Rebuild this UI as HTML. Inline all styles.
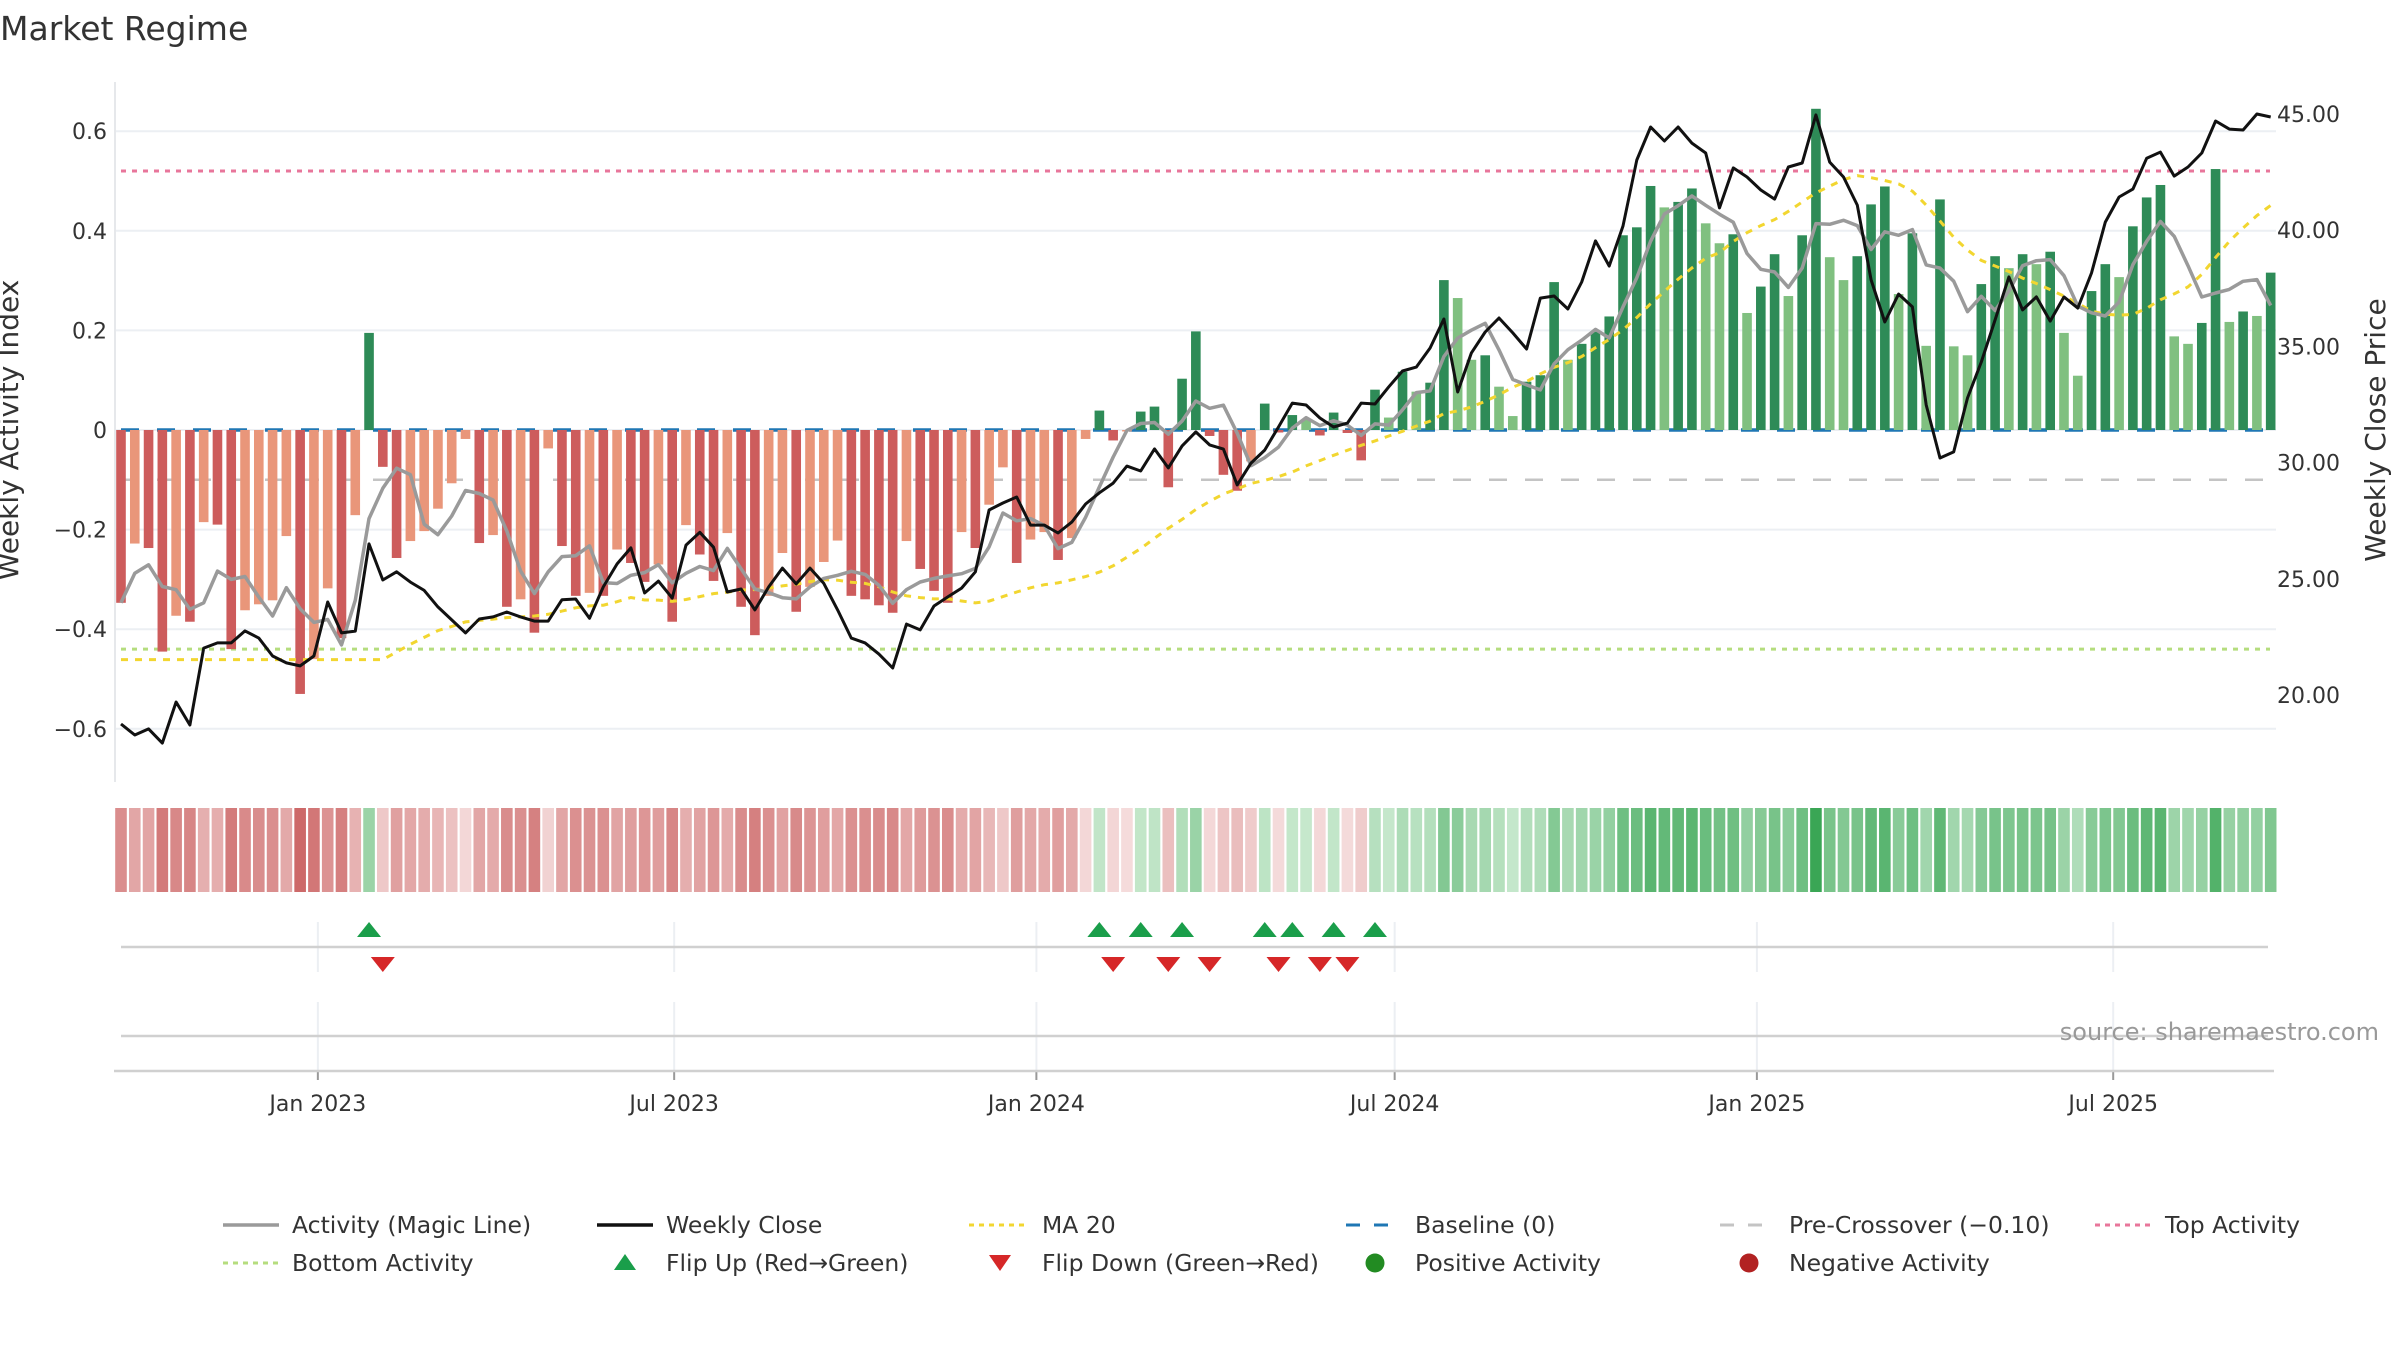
<!DOCTYPE html>
<html><head><meta charset="utf-8"><title>Market Regime</title>
<style>
html,body{margin:0;padding:0;background:#fff;}
svg{display:block;font-family:"DejaVu Sans","Liberation Sans",sans-serif;}
</style></head>
<body>
<svg id="chart" width="2400" height="1350" viewBox="0 0 2400 1350" xmlns="http://www.w3.org/2000/svg">
<rect width="2400" height="1350" fill="#fff"/>
<text x="0" y="40" font-size="33" fill="#333">Market Regime</text>
<g id="grid"></g>
<g id="refs"></g>
<g id="bars"></g>
<g id="lines"></g>
<g id="axes"></g>
<g id="strip"></g>
<g id="flips"></g>
<text x="18" y="430" font-size="28" fill="#333" text-anchor="middle" transform="rotate(-90 18 430)">Weekly Activity Index</text>
<text x="2385" y="430" font-size="28" fill="#333" text-anchor="middle" transform="rotate(-90 2385 430)">Weekly Close Price</text>
<text x="2379" y="1040" font-size="24" fill="#999" text-anchor="end">source: sharemaestro.com</text>
<g id="legend"></g>
</svg>
<script>
const activity = [
-0.347,-0.228,-0.237,-0.445,-0.373,-0.385,-0.185,-0.19,-0.44,-0.362,
-0.35,-0.342,-0.213,-0.53,-0.46,-0.318,-0.418,-0.171,0.195,-0.074,
-0.257,-0.223,-0.203,-0.158,-0.107,-0.018,-0.227,-0.211,-0.355,-0.34,
-0.407,-0.037,-0.233,-0.333,-0.327,-0.333,-0.24,-0.267,-0.305,-0.27,
-0.385,-0.191,-0.25,-0.303,-0.207,-0.355,-0.412,-0.333,-0.247,-0.365,
-0.315,-0.265,-0.222,-0.333,-0.34,-0.352,-0.367,-0.223,-0.279,-0.323,
-0.347,-0.205,-0.237,-0.15,-0.075,-0.267,-0.22,-0.205,-0.261,-0.217,
-0.018,0.039,-0.021,-0.003,0.037,0.047,-0.115,0.103,0.198,-0.012,
-0.09,-0.122,-0.063,0.053,-0.005,0.03,0.021,-0.011,0.035,-0.006,
-0.061,0.081,0.025,0.117,0.077,0.095,0.301,0.265,0.141,0.15,
0.087,0.028,0.097,0.11,0.297,0.141,0.173,0.197,0.228,0.391,
0.407,0.49,0.447,0.458,0.485,0.415,0.375,0.393,0.235,0.288,
0.353,0.269,0.391,0.645,0.347,0.301,0.349,0.453,0.489,0.273,
0.395,0.169,0.463,0.168,0.15,0.293,0.349,0.325,0.353,0.333,
0.358,0.195,0.109,0.279,0.333,0.307,0.409,0.467,0.492,0.188,
0.173,0.215,0.524,0.217,0.238,0.229,0.316];
const closePrice = [
18.75,18.28,18.54,17.93,19.7,18.71,22.02,22.24,22.24,22.76,
22.45,21.68,21.38,21.25,21.68,24.0,22.67,22.75,26.5,24.95,
25.3,24.86,24.5,23.79,23.23,22.67,23.27,23.36,23.57,23.36,
23.18,23.18,24.1,24.13,23.3,24.65,25.64,26.33,24.39,24.9,
24.17,26.45,27.0,26.36,24.43,24.56,23.66,24.65,25.46,24.78,
25.46,24.8,23.66,22.45,22.24,21.76,21.16,23.05,22.8,23.83,
24.22,24.6,25.3,27.96,28.26,28.52,27.31,27.31,26.97,27.44,
28.22,28.7,29.12,29.85,29.64,30.59,29.77,30.72,31.32,30.76,
30.58,29.04,29.98,30.54,31.53,32.56,32.48,31.92,31.53,31.7,
32.56,32.52,33.26,33.94,34.11,34.93,36.18,33.04,34.72,35.62,
36.22,35.58,34.89,37.08,37.17,36.61,37.77,39.54,38.46,40.18,
43.02,44.44,43.84,44.44,43.75,43.32,40.96,42.68,42.29,41.73,
41.34,42.72,42.89,44.96,42.93,42.29,41.08,37.86,36.05,37.25,
36.7,32.48,30.2,30.46,32.78,34.33,36.14,37.99,36.57,37.13,
36.09,37.13,36.65,38.16,40.35,41.43,41.77,43.1,43.36,42.33,
42.72,43.32,44.7,44.35,44.31,45.0,44.87];
const startDate = "2022-09-23";
const leftTicks = [0.6,0.4,0.2,0,-0.2,-0.4,-0.6];
const leftTickLabels = ["0.6","0.4","0.2","0","\u22120.2","\u22120.4","\u22120.6"];
const rightTicks = [45,40,35,30,25,20];
const rightTickLabels = ["45.00","40.00","35.00","30.00","25.00","20.00"];
const monthTicks = ["2023-01-01","2023-07-01","2024-01-01","2024-07-01","2025-01-01","2025-07-01"];
const monthTickLabels = ["Jan 2023","Jul 2023","Jan 2024","Jul 2024","Jan 2025","Jul 2025"];
const topActivity = 0.52, bottomActivity = -0.44, preCross = -0.10;

const NS="http://www.w3.org/2000/svg";
function mk(tag, attrs, parent){const e=document.createElementNS(NS,tag);for(const k in attrs)e.setAttribute(k,attrs[k]);parent.appendChild(e);return e;}
const t0 = new Date(startDate+"T00:00:00Z").getTime();
const DAY=86400000, PXDAY=13.78/7, X0=121;
function xDate(s){return X0+(new Date(s+"T00:00:00Z").getTime()-t0)/DAY*PXDAY;}
function xi(i){return X0+i*7*PXDAY;}
function yA(v){return 430-498*v;}
function yP(p){return 114+(45-p)*23.24;}
const L=115,R=2276;
const n=activity.length;

// grid
const grid=document.getElementById('grid');
leftTicks.forEach((v,k)=>{const g=mk('line',{x1:L,x2:R,y1:yA(v),y2:yA(v),stroke:'#eceff3','stroke-width':2},grid);
});

// reference lines
const refs=document.getElementById('refs');
let e;
e=mk('line',{x1:121,x2:2270,y1:yA(topActivity),y2:yA(topActivity),stroke:'#e8769b','stroke-width':3,'stroke-dasharray':'5 6'},refs);

e=mk('line',{x1:121,x2:2270,y1:yA(bottomActivity),y2:yA(bottomActivity),stroke:'#b5dd7e','stroke-width':3,'stroke-dasharray':'5 6'},refs);

e=mk('line',{x1:121,x2:2270,y1:yA(preCross),y2:yA(preCross),stroke:'#c4c4c4','stroke-width':2.5,'stroke-dasharray':'18 18'},refs);


// bars
const bars=document.getElementById('bars');
const BW=9.6;
for(let i=0;i<n;i++){
  const v=activity[i], p=i>0?activity[i-1]:0;
  let dark = (i===0)||(Math.sign(v)!==Math.sign(p))||(Math.abs(v)>Math.abs(p));
  let col = v>=0 ? (dark?'#2e8b57':'#80c080') : (dark?'#cd5c5c':'#e9967a');
  const y1=yA(Math.max(v,0)), y2=yA(Math.min(v,0));
  const b=mk('rect',{x:xi(i)-BW/2,y:y1,width:BW,height:Math.max(y2-y1,0.5),fill:col},bars);
  
  
}
// baseline
e=mk('line',{x1:121,x2:2270,y1:yA(0),y2:yA(0),stroke:'#1f77b4','stroke-width':3.5,'stroke-dasharray':'18 18'},refs);

bars.parentNode.insertBefore(bars, refs.nextSibling);
refs.parentNode.appendChild(document.getElementById('lines'));

// derived series
const magic=activity.map((v,i)=>{const s=activity.slice(Math.max(0,i-3),i+1);return s.reduce((a,b)=>a+b,0)/s.length;});
const ma20raw=closePrice.map((v,i)=>{if(i<19)return null;const s=closePrice.slice(i-19,i+1);return s.reduce((a,b)=>a+b,0)/20;});
const ma20=ma20raw.map(v=>v===null?ma20raw[19]:v);

const lines=document.getElementById('lines');
function path(arr,fy){return arr.map((v,i)=>(i?'L':'M')+xi(i).toFixed(1)+' '+fy(v).toFixed(1)).join(' ');}
e=mk('path',{d:path(ma20,yP),fill:'none',stroke:'#f2d630','stroke-width':3,'stroke-dasharray':'7 7'},lines);

e=mk('path',{d:path(magic,yA),fill:'none',stroke:'#9a9a9a','stroke-width':3.5,'stroke-linejoin':'round'},lines);

e=mk('path',{d:path(closePrice,yP),fill:'none',stroke:'#111','stroke-width':3,'stroke-linejoin':'round'},lines);


// axes
const axes=document.getElementById('axes');
e=mk('line',{x1:L,x2:L,y1:82,y2:782,stroke:'#e6e8eb','stroke-width':2},axes);

leftTicks.forEach((v,k)=>{const t=mk('text',{x:107,y:yA(v)+8,'font-size':22,fill:'#333','text-anchor':'end'},axes);t.textContent=leftTickLabels[k];
});
rightTicks.forEach((v,k)=>{const t=mk('text',{x:2277,y:yP(v)+8,'font-size':22,fill:'#333'},axes);t.textContent=rightTickLabels[k];
});

// strip
const strip=document.getElementById('strip');
const maxPos=Math.max(...activity), maxNeg=Math.abs(Math.min(...activity));
function mix(a,b,t){return 'rgb('+a.map((c,j)=>Math.round(c+(b[j]-c)*t)).join(',')+')';}
for(let i=0;i<n;i++){
  const v=activity[i];
  const col = v>=0 ? mix([205,235,210],[58,166,85],Math.pow(v/maxPos,0.9)) : mix([245,220,220],[205,105,105],Math.pow(-v/maxNeg,0.9));
  const c=mk('rect',{x:xi(i)-5.8,y:808,width:11.6,height:84,fill:col},strip);
  
  
}

// flip panel
const flips=document.getElementById('flips');
monthTicks.forEach((d,k)=>{const x=xDate(d);
  let g=mk('line',{x1:x,x2:x,y1:922,y2:972,stroke:'#eceff3','stroke-width':2},flips);
  
  g=mk('line',{x1:x,x2:x,y1:1002,y2:1070,stroke:'#eceff3','stroke-width':2},flips);
  
  g=mk('line',{x1:x,x2:x,y1:1071,y2:1080,stroke:'#999','stroke-width':2},flips);
  
  const t=mk('text',{x:x,y:1111,'font-size':22,fill:'#333','text-anchor':'middle'},flips);t.textContent=monthTickLabels[k];
  
});
e=mk('line',{x1:121,x2:2268,y1:947,y2:947,stroke:'#d0d0d0','stroke-width':2.5},flips);

e=mk('line',{x1:121,x2:2268,y1:1036,y2:1036,stroke:'#d0d0d0','stroke-width':2.5},flips);

e=mk('line',{x1:114,x2:2274,y1:1071,y2:1071,stroke:'#d0d0d0','stroke-width':2.5},flips);

for(let i=1;i<n;i++){
  const a=activity[i-1], b=activity[i], x=xi(i);
  if(a<0&&b>0){const m=mk('path',{d:`M${x-12} 937 L${x+12} 937 L${x} 922 Z`,fill:'#1a9e4a'},flips);
    }
  if(a>0&&b<0){const m=mk('path',{d:`M${x-12} 957 L${x+12} 957 L${x} 972 Z`,fill:'#d62728'},flips);
    }
}

// legend
const leg=document.getElementById('legend');
const rows=[1225,1263];
const items=[
 {r:0,sx:223,tx:292,label:'Activity (Magic Line)',type:'line',stroke:'#9a9a9a',w:3.5,dash:''},
 {r:0,sx:597,tx:666,label:'Weekly Close',type:'line',stroke:'#111',w:3.5,dash:''},
 {r:0,sx:969,tx:1042,label:'MA 20',type:'line',stroke:'#f2d630',w:3,dash:'5 5'},
 {r:0,sx:1346,tx:1415,label:'Baseline (0)',type:'line',stroke:'#1f77b4',w:3,dash:'14 14'},
 {r:0,sx:1720,tx:1789,label:'Pre-Crossover (\u22120.10)',type:'line',stroke:'#c4c4c4',w:3,dash:'14 14'},
 {r:0,sx:2095,tx:2165,label:'Top Activity',type:'line',stroke:'#e8769b',w:3,dash:'5 5'},
 {r:1,sx:223,tx:292,label:'Bottom Activity',type:'line',stroke:'#b5dd7e',w:3,dash:'5 5'},
 {r:1,sx:625,tx:666,label:'Flip Up (Red\u2192Green)',type:'up'},
 {r:1,sx:1000,tx:1042,label:'Flip Down (Green\u2192Red)',type:'down'},
 {r:1,sx:1375,tx:1415,label:'Positive Activity',type:'dot',fill:'#228b22'},
 {r:1,sx:1749,tx:1789,label:'Negative Activity',type:'dot',fill:'#b22222'}
];
items.forEach(it=>{
  const y=rows[it.r];
  const g=mk('g',{},leg);
  
  
  if(it.type==='line'){const a={x1:it.sx,x2:it.sx+56,y1:y,y2:y,stroke:it.stroke,'stroke-width':it.w};if(it.dash)a['stroke-dasharray']=it.dash;mk('line',a,g);}
  if(it.type==='up')mk('path',{d:`M${it.sx-11} ${y+7} L${it.sx+11} ${y+7} L${it.sx} ${y-9} Z`,fill:'#1a9e4a'},g);
  if(it.type==='down')mk('path',{d:`M${it.sx-11} ${y-8} L${it.sx+11} ${y-8} L${it.sx} ${y+8} Z`,fill:'#d62728'},g);
  if(it.type==='dot')mk('circle',{cx:it.sx,cy:y,r:9.5,fill:it.fill},g);
  const t=mk('text',{x:it.tx,y:y+8,'font-size':23.5,fill:'#333'},g);t.textContent=it.label;
});
</script>
</body></html>
